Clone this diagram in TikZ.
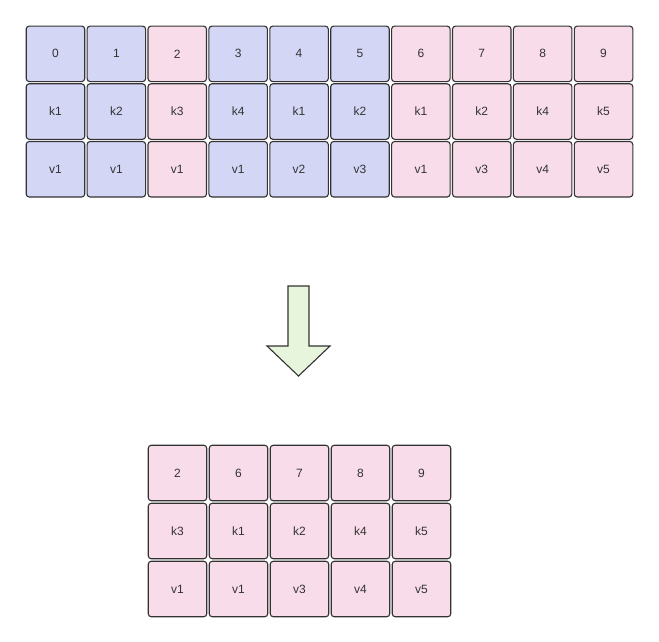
\documentclass[tikz,border=0pt]{standalone}
\usepackage{fontspec}
\setsansfont{Liberation Sans}
\usepackage{xcolor}
\usepackage{tikz}
\usetikzlibrary{positioning}
\definecolor{cellblue}{RGB}{212,214,245}
\definecolor{cellpink}{RGB}{249,220,234}
\definecolor{arrowgreen}{RGB}{230,245,220}
\definecolor{linegray}{RGB}{51,51,51}
\newcommand{\CellW}{60.9}
\newcommand{\CellH}{57.7}
\tikzset{
    cell/.style = {draw = linegray, line width = 1.1pt, rounded corners = 3pt,
        minimum width = 58.5pt, minimum height = 55.5pt, inner sep = 0pt,
        text = linegray, font = \sffamily\fontsize{12}{14}\selectfont},
    bluecell/.style = {cell, fill = cellblue},
    pinkcell/.style = {cell, fill = cellpink},
}

\begin{document}
\begin{tikzpicture}[x = 1pt, y = -1pt]
    \useasboundingbox (0, 0) rectangle (659, 642);

    % draw upper table: index, key, value
    \foreach \i/\k/\v/\c in {0/k1/v1/bluecell, 1/k2/v1/bluecell, 2/k3/v1/pinkcell,
        3/k4/v1/bluecell, 4/k1/v2/bluecell, 5/k2/v3/bluecell, 6/k1/v1/pinkcell,
        7/k2/v3/pinkcell, 8/k4/v4/pinkcell, 9/k5/v5/pinkcell}{
        \node[\c] (top-idx-\i) at ({25 + \CellW*(\i + 0.5)}, {25 + \CellH*0.5}) {\i};
        \node[\c] (top-key-\i) at ({25 + \CellW*(\i + 0.5)}, {25 + \CellH*1.5}) {\k};
        \node[\c] (top-val-\i) at ({25 + \CellW*(\i + 0.5)}, {25 + \CellH*2.5}) {\v};
    }


    % draw down arrow
    \draw[draw = linegray, line width = 1.1pt, fill = arrowgreen]
        (288, 286) -- (309, 286) -- (309, 346) -- (330, 346) -- (298.5, 376)
        -- (267, 346) -- (288, 346) -- cycle;


    % draw lower table: kept rows
    \foreach \n/\i/\k/\v in {0/2/k3/v1, 1/6/k1/v1, 2/7/k2/v3, 3/8/k4/v4, 4/9/k5/v5}{
        \node[pinkcell] (bot-idx-\n) at ({147 + 61*(\n + 0.5)}, {444 + 58*0.5}) {\i};
        \node[pinkcell] (bot-key-\n) at ({147 + 61*(\n + 0.5)}, {444 + 58*1.5}) {\k};
        \node[pinkcell] (bot-val-\n) at ({147 + 61*(\n + 0.5)}, {444 + 58*2.5}) {\v};
    }

\end{tikzpicture}
\end{document}
